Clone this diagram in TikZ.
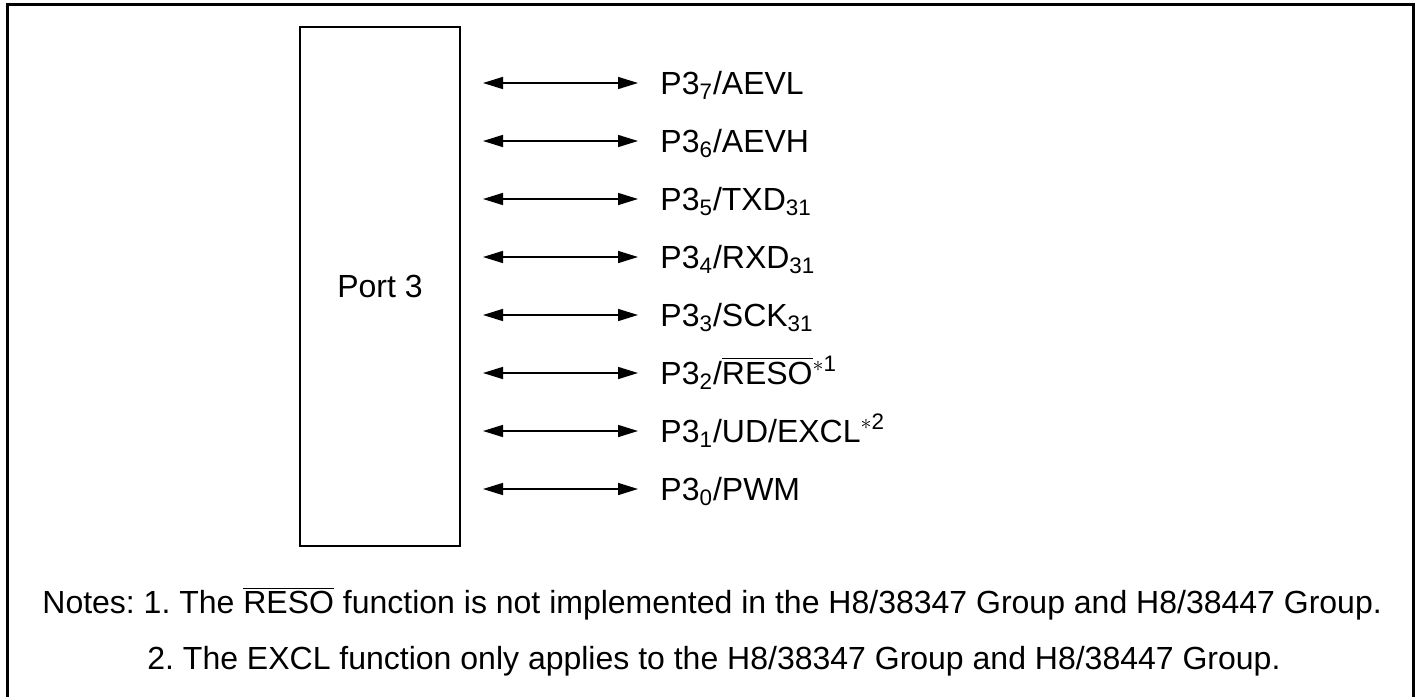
\documentclass[tikz,border=0pt]{standalone}
\usepackage{fontspec}
\setmainfont{Liberation Sans}
\usetikzlibrary{arrows.meta}
\frenchspacing

\tikzset{
    pinarrow/.style={{Triangle[length=10pt,width=6pt]}-{Triangle[length=10pt,width=6pt]}, line width=0.75pt},
    pinlabel/.style={anchor=base west, inner sep=0pt},
    notetext/.style={anchor=base west, inner sep=0pt}
}

\begin{document}
\begin{tikzpicture}[x=0.5pt, y=-0.5pt, font=\fontsize{16}{19}\selectfont]
                \useasboundingbox (0,0) rectangle (1417,696);
                \draw[line width=1.5pt] (7.5,4.5) rectangle (1413.5,720);
                \draw[line width=0.75pt] (300,27) rectangle (460,546);
                \node[inner sep=0pt, anchor=base] (port) at (380,297) {Port 3};
                % pins
                \node[pinlabel] (p7) at (660,94) {P3\textsubscript{7}/AEVL};
                \node[pinlabel] (p6) at (660,152) {P3\textsubscript{6}/AEVH};
                \node[pinlabel] (p5) at (660,210) {P3\textsubscript{5}/TXD\textsubscript{31}};
                \node[pinlabel] (p4) at (660,268) {P3\textsubscript{4}/RXD\textsubscript{31}};
                \node[pinlabel] (p3) at (660,326) {P3\textsubscript{3}/SCK\textsubscript{31}};
                \node[pinlabel] (p2) at (660,384) {P3\textsubscript{2}/$\overline{\mbox{RESO}}$\textsuperscript{$\ast$1}};
                \node[pinlabel] (p1) at (660,442) {P3\textsubscript{1}/UD/EXCL\textsuperscript{$\ast$2}};
                \node[pinlabel] (p0) at (660,500) {P3\textsubscript{0}/PWM};
                \foreach \i/\y in {7/83,6/141,5/199,4/257,3/315,2/373,1/431,0/489}{
                    \coordinate (e\i) at (483,\y);
                    \coordinate (t\i) at (638,\y);
                    \draw[pinarrow] (e\i) -- (t\i);
                }
                % notes
                \node[notetext] (note1) at (42,613.5) {Notes: 1. The $\overline{\mbox{RESO}}$ function is not implemented in the H8/38347 Group and H8/38447 Group.};
                \node[notetext] (note2) at (147,669.5) {2. The EXCL function only applies to the H8/38347 Group and H8/38447 Group.};
            \end{tikzpicture}
\end{document}
